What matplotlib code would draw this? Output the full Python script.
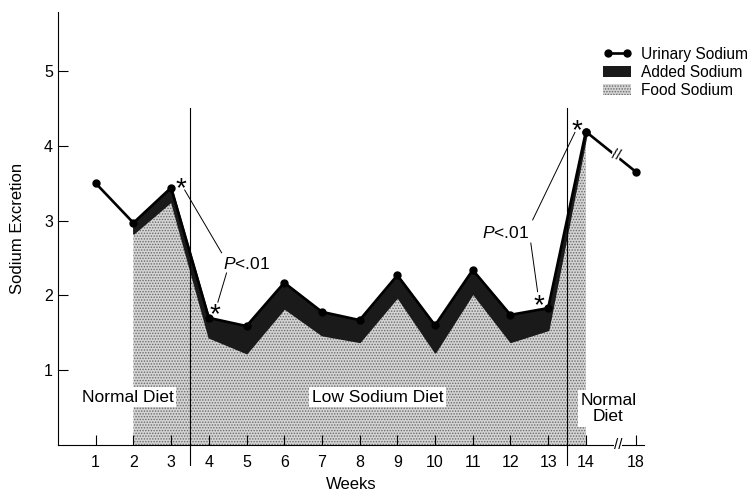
import matplotlib
matplotlib.use("Agg")
import matplotlib.pyplot as plt
from matplotlib.lines import Line2D
from matplotlib.patches import Patch

plt.rcParams['font.family'] = ['Liberation Sans', 'DejaVu Sans']
plt.rcParams['mathtext.fontset'] = 'custom'
plt.rcParams['mathtext.it'] = 'Liberation Sans:italic'
plt.rcParams['mathtext.rm'] = 'Liberation Sans'
plt.rcParams['hatch.linewidth'] = 0.7

# data
weeks = [1, 2, 3, 4, 5, 6, 7, 8, 9, 10, 11, 12, 13, 14, 18]
urinary = [3.50, 2.97, 3.44, 1.70, 1.59, 2.17, 1.78, 1.67, 2.27, 1.60, 2.34, 1.74, 1.83, 4.19, 3.65]
food_weeks = [2, 3, 4, 5, 6, 7, 8, 9, 10, 11, 12, 13, 14]
food = [2.83, 3.26, 1.44, 1.23, 1.83, 1.47, 1.38, 1.98, 1.24, 2.03, 1.38, 1.54, 4.12]
week_labels = ["1", "2", "3", "4", "5", "6", "7", "8", "9", "10", "11", "12", "13", "14", "18"]
y_ticks = [1, 2, 3, 4, 5]


def xpos(w):
    # axis is broken after week 14
    return w if w <= 14 else 14 + (w - 14) / 3.0


xs = [xpos(w) for w in weeks]
band_top = urinary[1:14]  # top of added sodium band, weeks 2-14

fig = plt.figure(figsize=(7.54, 4.93), dpi=100)
ax = fig.add_axes([0.0769, 0.0974, 0.854 - 0.0769, 0.9757 - 0.0974])

stipple = dict(facecolor='#d4d4d4', hatch='......', edgecolor='#6a6a6a', linewidth=0)
ax.fill_between(food_weeks, 0, food, **stipple)
ax.fill_between(food_weeks, food, band_top, facecolor='#1a1a1a', edgecolor='#1a1a1a', linewidth=1.2)

ax.plot(xs[:14], urinary[:14], color='black', lw=1.9, marker='o', ms=5, zorder=5)
ax.plot(xs[13:], urinary[13:], color='black', lw=1.9, marker='o', ms=5, zorder=5)

# phase dividers
for xv in [3.5, 13.5]:
    ax.plot([xv, xv], [-0.27, 4.5], color='black', lw=0.8, clip_on=False, zorder=4)

# phase labels
box = dict(facecolor='white', edgecolor='none', pad=2)
ax.text(1.85, 0.64, "Normal Diet", ha='center', va='center', fontsize=12.5, bbox=box, zorder=6)
ax.text(8.48, 0.64, "Low Sodium Diet", ha='center', va='center', fontsize=12.5, bbox=box, zorder=6)
ax.text(14.6, 0.49, "Normal\nDiet", ha='center', va='center', fontsize=12.5, bbox=box,
        linespacing=1.1, zorder=6)

# significance markers
for (sx, sy) in [(3.25, 3.42), (4.16, 1.74), (13.76, 4.19), (12.75, 1.85)]:
    ax.text(sx, sy, "*", ha='center', va='center', fontsize=20, zorder=7)
for (x0, y0, x1, y1) in [(3.36, 3.41, 4.34, 2.57), (4.47, 2.30, 4.24, 1.91),
                         (12.59, 3.01, 13.71, 4.18), (12.54, 2.70, 12.72, 2.05)]:
    ax.plot([x0, x1], [y0, y1], color='black', lw=0.7, zorder=7)
ax.text(5.0, 2.42, r"$P$<.01", ha='center', va='center', fontsize=12.5)
ax.text(11.88, 2.83, r"$P$<.01", ha='center', va='center', fontsize=12.5)

# break marks
ax.text(14.8, 3.88, "//", ha='center', va='center', fontsize=11, rotation=-15,
        bbox=dict(facecolor='white', edgecolor='none', pad=0), zorder=8)
ax.text(14.85, 0.0, "//", ha='center', va='center', fontsize=11,
        bbox=dict(facecolor='white', edgecolor='none', pad=0), zorder=8, clip_on=False)

ax.set_xlim(0, 15.54)
ax.set_ylim(0, 5.79)
ax.set_xticks(xs)
ax.set_xticklabels(week_labels)
ax.set_yticks(y_ticks)
ax.tick_params(direction='in', length=7, width=0.8, labelsize=11.5)
ax.tick_params(axis='x', pad=7)
ax.spines['top'].set_visible(False)
ax.spines['right'].set_visible(False)
ax.set_xlabel("Weeks", fontsize=12, labelpad=5)
ax.set_ylabel("Sodium Excretion", fontsize=12, labelpad=14)

handles = [Line2D([0], [0], color='black', lw=1.9, marker='o', ms=5),
           Patch(facecolor='#1a1a1a', edgecolor='none'),
           Patch(**stipple)]
fig.legend(handles, ["Urinary Sodium", "Added Sodium", "Food Sodium"], loc='upper left',
           bbox_to_anchor=(0.80, 0.905), frameon=False, fontsize=11.2, numpoints=2,
           handlelength=1.8, handletextpad=0.6, labelspacing=0.2, borderpad=0, borderaxespad=0)

plt.savefig("out.png", dpi=100)
